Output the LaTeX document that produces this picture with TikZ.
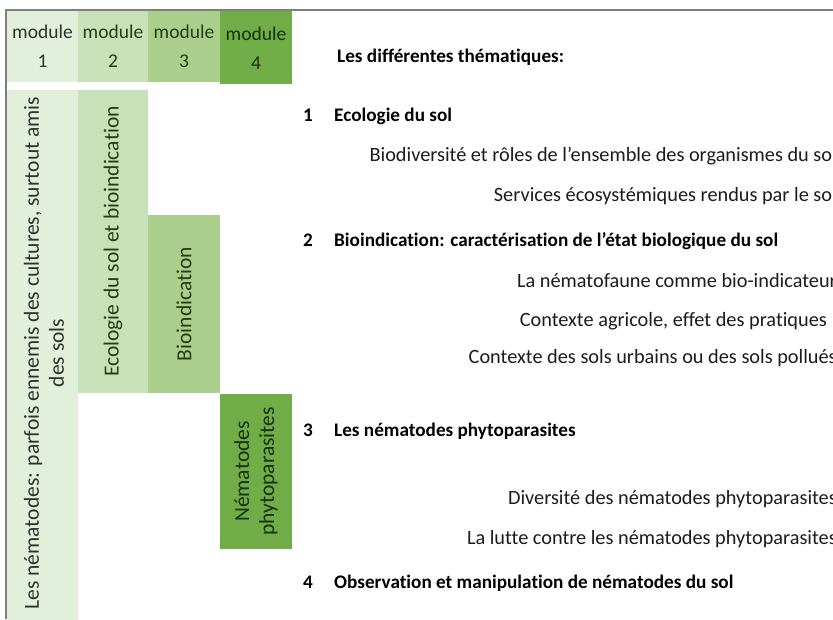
\documentclass[tikz,border=0pt]{standalone}
\usepackage{fontspec}
\setmainfont{Carlito}[Ligatures=NoCommon]
\definecolor{gA}{HTML}{E2EFDA}
\definecolor{gB}{HTML}{C9E1B8}
\definecolor{gC}{HTML}{AACF8C}
\definecolor{gD}{HTML}{70AD47}
\definecolor{tgray}{HTML}{303030}
\definecolor{tgreen}{HTML}{243D16}
\definecolor{tdark}{HTML}{16300A}
\definecolor{txt}{HTML}{1C1C1C}
\definecolor{frame}{HTML}{7F7F7F}
\tikzset{
  cell/.style={inner sep=0pt, outer sep=0pt, anchor=north west, draw=none},
  hdr/.style={align=center, inner sep=0pt, font=\fontsize{19.5}{29}\selectfont},
  vtxt/.style={rotate=90, align=center, inner sep=0pt, font=\fontsize{21.5}{25}\selectfont},
  body/.style={inner sep=0pt, text=txt, font=\fontsize{20.3}{24}\selectfont},
  headline/.style={inner sep=0pt, text=black, font=\bfseries\fontsize{19.2}{24}\selectfont},
  border/.style={draw=frame, line width=1.6pt},
}
\begin{document}
\begin{tikzpicture}[x=1pt,y=-1pt]
\useasboundingbox (0,0) rectangle (833,619);
\fill[white] (0,0) rectangle (833,619);
% header cells
\node[cell, fill=gA, minimum width=71pt, minimum height=71pt] (h1) at (7,11) {};
\node[cell, fill=gB, minimum width=70pt, minimum height=71pt] (h2) at (78,11) {};
\node[cell, fill=gC, minimum width=72pt, minimum height=71pt] (h3) at (148,11) {};
\node[cell, fill=gD, minimum width=72pt, minimum height=73pt] (h4) at (220,11) {};
\node[hdr, text=tgray] (h1t) at (h1.center) {module\\1};
\node[hdr, text=tgreen] (h2t) at (h2.center) {module\\2};
\node[hdr, text=tgreen] (h3t) at (h3.center) {module\\3};
\node[hdr, text=tdark] (h4t) at ([yshift=-1pt]h4.center) {module\\4};
% module columns
\node[cell, fill=gA, minimum width=71pt, minimum height=535pt] (c1) at (7,90) {};
\node[cell, fill=gB, minimum width=70pt, minimum height=303pt] (c2) at (78,90) {};
\node[cell, fill=gC, minimum width=72pt, minimum height=178pt] (c3) at (148,215) {};
\node[cell, fill=gD, minimum width=72pt, minimum height=155pt] (c4) at (220,394) {};
\node[vtxt, text=tgray] (c1t) at (44,353) {Les nématodes: parfois ennemis des cultures, surtout amis\\des sols};
\node[vtxt, text=tgreen] (c2t) at (c2.center) {Ecologie du sol et bioindication};
\node[vtxt, text=tgreen] (c3t) at (c3.center) {Bioindication};
\node[vtxt, text=tdark] (c4t) at (c4.center) {Nématodes\\phytoparasites};
% frame
\draw[border] (6,619) -- (6,10) -- (833,10);
% right-hand text
\node[headline, anchor=base west] (title) at (337,62) {Les différentes thématiques:};
\node[headline, anchor=base west] (n1) at (303,121) {1};
\node[headline, anchor=base west] (s1) at (334,121) {Ecologie du sol};
\node[body, anchor=base east] (s1a) at (837,161) {Biodiversité et rôles de l’ensemble des organismes du sol};
\node[body, anchor=base east] (s1b) at (837,201) {Services écosystémiques rendus par le sol};
\node[headline, anchor=base west] (n2) at (303,246) {2};
\node[headline, anchor=base west] (s2) at (334,246) {Bioindication: caractérisation de l’état biologique du sol};
\node[body, anchor=base east] (s2a) at (837,287) {La nématofaune comme bio-indicateur};
\node[body, anchor=base east] (s2b) at (827,326) {Contexte agricole, effet des pratiques};
\node[body, anchor=base east] (s2c) at (837,363) {Contexte des sols urbains ou des sols pollués};
\node[headline, anchor=base west] (n3) at (303,436) {3};
\node[headline, anchor=base west] (s3) at (334,436) {Les nématodes phytoparasites};
\node[body, anchor=base east] (s3a) at (837,504) {Diversité des nématodes phytoparasites};
\node[body, anchor=base east] (s3b) at (837,544) {La lutte contre les nématodes phytoparasites};
\node[headline, anchor=base west] (n4) at (303,588) {4};
\node[headline, anchor=base west] (s4) at (334,588) {Observation et manipulation de nématodes du sol};
\end{tikzpicture}
\end{document}
